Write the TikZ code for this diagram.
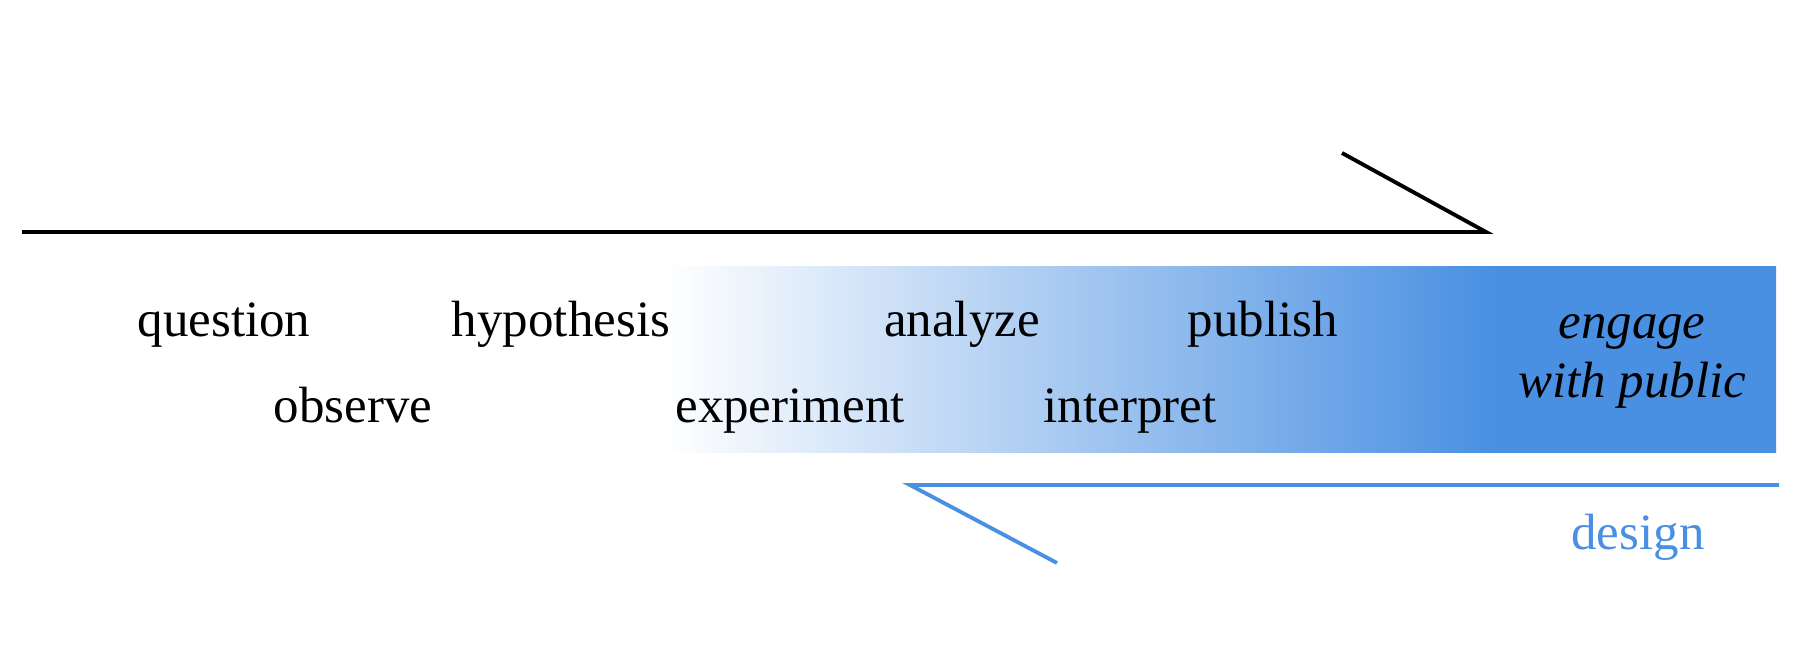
\documentclass[tikz,border=0pt]{standalone}
\usepackage{fontspec}
\setmainfont{Liberation Serif}
\usetikzlibrary{positioning,calc}
\definecolor{sciblue}{HTML}{4A90E2}
\pgfdeclarehorizontalshading{bandfade}{100bp}{color(0bp)=(white); color(25bp)=(white); color(62.2bp)=(sciblue); color(100bp)=(sciblue)}

\begin{document}
\begin{tikzpicture}[
		line width=1.1pt,
		step_label/.style={anchor=base, inner sep=0pt, font=\fontsize{14.5}{17}\selectfont, text=black},
		public_label/.style={step_label, font=\fontsize{14.5}{17}\selectfont\itshape, align=center},
		design_label/.style={step_label, text=sciblue}
		]
		
		% --- FRAME (fixes the margins) ---
		\useasboundingbox (0,0) rectangle (17.94,6.70);
		
		% --- BLUE BAND (fades in from the left) ---
		\shade[shading=bandfade] (6.64,2.17) rectangle (17.76,4.03);
		
		% --- STEPS, UPPER ROW ---
		\node[step_label] (question) at (2.24,3.33) {question};
		\node[step_label] (hypothesis) at (5.61,3.33) {hypothesis};
		\node[step_label] (analyze) at (9.62,3.33) {analyze};
		\node[step_label] (publish) at (12.63,3.33) {publish};
		
		% --- STEPS, LOWER ROW ---
		\node[step_label] (observe) at (3.53,2.47) {observe};
		\node[step_label] (experiment) at (7.90,2.47) {experiment};
		\node[step_label] (interpret) at (11.30,2.47) {interpret};
		
		% --- LAST STEP ---
		\node[public_label] (engage) at (16.32,3.31) {engage};
		\node[public_label] (with_public) at (16.32,2.72) {with public};
		
		% --- DESIGN LABEL ---
		\node[design_label] (design) at (16.38,1.20) {design};
		
		% --- HALF ARROWS ---
		\coordinate (sci_start) at (0.22,4.38);
		\coordinate (sci_tip) at (14.86,4.38);
		\coordinate (sci_barb) at (13.42,5.17);
		\draw[black] (sci_start) -- (sci_tip) -- (sci_barb);
		
		\coordinate (design_start) at (17.79,1.85);
		\coordinate (design_tip) at (9.10,1.85);
		\coordinate (design_barb) at (10.57,1.07);
		\draw[sciblue] (design_start) -- (design_tip) -- (design_barb);
		
	\end{tikzpicture}
\end{document}
